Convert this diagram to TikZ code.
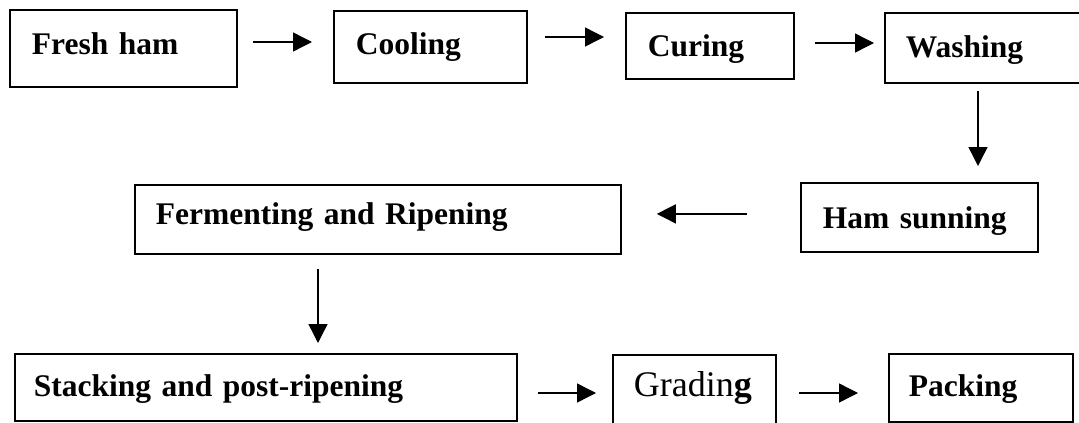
\documentclass[tikz,border=0pt]{standalone}
\usepackage{fontspec}
\setmainfont{Liberation Serif}
\usetikzlibrary{arrows.meta,calc}
\tikzset{
  box/.style={draw, line width=1.8pt, inner sep=0pt, align=left, anchor=north west,
    font=\bfseries\fontsize{31.5}{38}\selectfont},
  arr/.style={line width=1.4pt, -{Triangle[length=19pt,width=19pt]}}
}
\begin{document}
\begin{tikzpicture}[x=1pt,y=-1pt]
\useasboundingbox (0,0) rectangle (1079,423);
\clip (0,0) rectangle (1079,423);
\fill[white] (0,0) rectangle (1079,423);
% top row
\node[box, text width=227pt, text height=45pt, text depth=32pt] (fresh) at (9,9) {\hspace*{22pt}Fresh ham};
\node[box, text width=193pt, text height=44pt, text depth=28pt] (cooling) at (333,10) {\hspace*{22pt}Cooling};
\node[box, text width=168pt, text height=44pt, text depth=22pt] (curing) at (625,12) {\hspace*{22pt}Curing};
\node[box, text width=230pt, text height=45pt, text depth=25pt] (washing) at (884,12) {\hspace*{21pt}Washing};
% middle row
\node[box, text width=237pt, text height=46pt, text depth=23pt] (hams) at (800,182) {\hspace*{22pt}Ham sunning};
\node[box, text width=486pt, text height=40pt, text depth=29pt] (ferm) at (134,184) {\hspace*{21pt}Fermenting and Ripening};
% bottom row
\node[box, text width=502pt, text height=43pt, text depth=24pt] (stack) at (14,353) {\hspace*{19pt}Stacking and post-ripening};
\node[box, text width=163pt, text height=42pt, text depth=44pt, font=\mdseries\fontsize{36}{42}\selectfont] (grading) at (612,354) {\hspace*{21pt}Gradin{\bfseries g}};
\node[box, text width=184pt, text height=43pt, text depth=25pt] (packing) at (888,353) {\hspace*{20pt}Packing};
% arrows
\draw[arr] ($(fresh.north east)+(15,33)$) -- ($(cooling.north west)+(-21,32)$);
\draw[arr] ($(cooling.north east)+(17,27)$) -- ($(curing.north west)+(-21,25)$);
\draw[arr] ($(curing.north east)+(20,31)$) -- ($(washing.north west)+(-10,31)$);
\draw[arr] ($(washing.south west)+(94,7)$) -- ($(hams.north west)+(178,-16)$);
\draw[arr] ($(hams.west)+(-53,-3.5)$) -- ($(ferm.east)+(35,-5.5)$);
\draw[arr] ($(ferm.south west)+(184,14)$) -- ($(stack.north west)+(304,-10)$);
\draw[arr] ($(stack.north east)+(20,40)$) -- ($(grading.north west)+(-16,39)$);
\draw[arr] ($(grading.north east)+(22,39)$) -- ($(packing.north west)+(-30,40)$);
\end{tikzpicture}
\end{document}
